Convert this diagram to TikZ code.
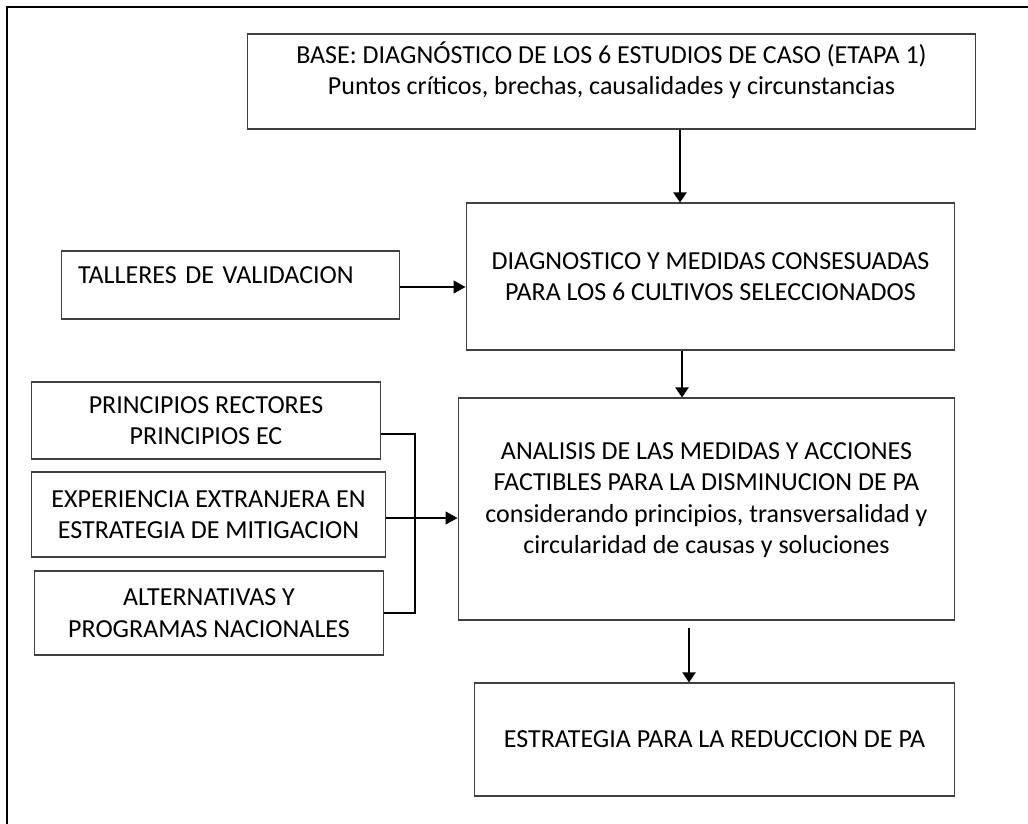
\documentclass[tikz,border=0pt]{standalone}
\usepackage{fontspec}
\setmainfont{Carlito}
\usetikzlibrary{arrows.meta}
\newcommand{\liftup}[2]{\raisebox{#1}[\height][\depth]{#2}}

\begin{document}
\begin{tikzpicture}[x=0.02cm,y=-0.02cm,
  box/.style={draw=black!75,line width=0.6pt,align=center,inner sep=0pt,
    font=\fontsize{14.8}{18}\selectfont},
  down/.style={line width=1.1pt,-{Triangle[length=0.2cm,width=0.26cm]}},
  feed/.style={line width=0.6pt,-{Triangle[length=0.24cm,width=0.26cm]}},
  bracket/.style={line width=1.2pt}]
\useasboundingbox (0,0) rectangle (1028,824);
\draw[line width=1.6pt] (7,824) -- (7,7) -- (1028,7);
% main column
  \node[box,minimum width=14.58cm,minimum height=1.9cm] (base) at (611.5,81.5)
    {\liftup{5pt}{\begin{tabular}{@{}c@{}}BASE: DIAGNÓSTICO DE LOS 6 ESTUDIOS DE CASO (ETAPA 1)\\
     Puntos críticos, brechas, causalidades y circunstancias\end{tabular}}};
  \node[box,minimum width=9.78cm,minimum height=2.94cm] (diag) at (710.5,276.5)
    {DIAGNOSTICO Y MEDIDAS CONSESUADAS\\PARA LOS 6 CULTIVOS SELECCIONADOS};
  \node[box,minimum width=9.94cm,minimum height=4.44cm] (analisis) at (706.5,509)
    {\liftup{5pt}{\begin{tabular}{@{}c@{}}ANALISIS DE LAS MEDIDAS Y ACCIONES\\
     FACTIBLES PARA LA DISMINUCION DE PA\\considerando principios, transversalidad y\\
     circularidad de causas y soluciones\end{tabular}}};
  \node[box,minimum width=9.62cm,minimum height=2.26cm] (estrategia) at (714.5,739.5)
    {ESTRATEGIA PARA LA REDUCCION DE PA};
% inputs on the left
  \node[box,text width=6.1cm,inner xsep=0.34cm,align=left,minimum height=1.36cm] (talleres) at (230.5,285)
    {\liftup{5.5pt}{TALLERES DE VALIDACION}};
  \node[box,minimum width=7cm,minimum height=1.54cm] (principios) at (206,420.5)
    {PRINCIPIOS RECTORES\\PRINCIPIOS EC};
  \node[box,minimum width=7.1cm,minimum height=1.7cm] (experiencia) at (208.5,514.5)
    {EXPERIENCIA EXTRANJERA EN\\ESTRATEGIA DE MITIGACION};
  \node[box,minimum width=7cm,minimum height=1.68cm] (alternativas) at (209,613)
    {ALTERNATIVAS Y\\PROGRAMAS NACIONALES};
  \coordinate (joint) at (415,518);

  \draw[down] (base.south -| 680,0) -- (diag.north -| 680,0);
  \draw[down] (diag.south -| 682,0) -- (analisis.north -| 682,0);
  \draw[down,shorten <=0.14cm] (analisis.south -| 689,0) -- (estrategia.north -| 689,0);
  \draw[feed] ([yshift=-0.04cm]talleres.east) -- ([yshift=-0.04cm]talleres.east -| diag.west);
  \draw[bracket] ([yshift=-0.27cm]principios.east) -| (joint) |- (alternativas.east);
  \draw[feed] (experiencia.east |- joint) -- (joint -| analisis.west);
\end{tikzpicture}
\end{document}
